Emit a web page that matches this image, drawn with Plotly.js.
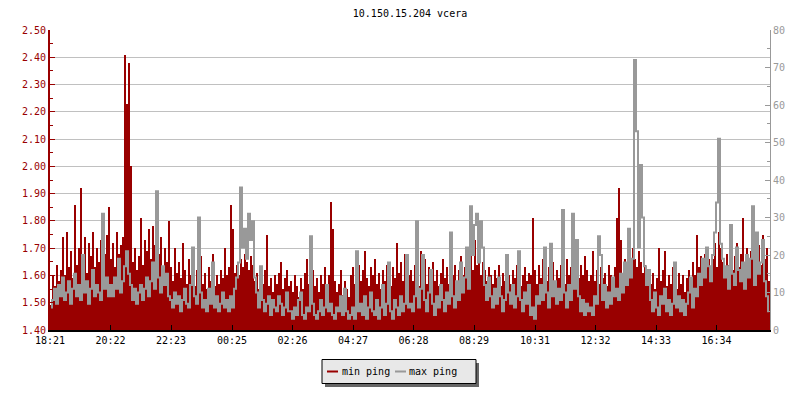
<!DOCTYPE html>
<html><head><meta charset="utf-8">
<script src="https://cdn.plot.ly/plotly-3.0.1.min.js"></script>
<style>html,body{margin:0;padding:0;background:#fff}#chart{width:800px;height:400px}</style>
</head><body><div id="chart"></div>
<script>
const chartTitle = '10.150.15.204 vcera';
const seriesNames = ['min ping', 'max ping'];
const tickLabels = ['18:21','20:22','22:23','00:25','02:26','04:27','06:28','08:29','10:31','12:32','14:33','16:34'];

// min ping (left axis), one value per 4 minutes over 24 h starting 18:21
const minPing = [
1.49,1.60,1.56,1.64,1.58,1.62,1.74,1.60,1.76,1.63,1.69,1.59,1.86,1.64,1.70,1.92,1.66,1.74,1.61,1.72,1.67,1.76,1.63,1.70,1.65,1.73,1.62,1.68,1.75,1.85,
1.66,1.72,1.63,1.76,1.68,1.71,1.74,2.41,2.23,2.38,2.00,1.65,1.70,1.62,1.67,1.81,1.64,1.73,1.69,1.77,1.66,1.78,1.71,1.63,1.68,1.74,1.61,1.70,1.65,1.80,
1.63,1.58,1.70,1.61,1.65,1.59,1.72,1.62,1.57,1.66,1.60,1.64,1.56,1.62,1.59,1.67,1.57,1.61,1.55,1.63,1.58,1.68,1.56,1.60,1.57,1.62,1.59,1.70,1.60,1.63,
1.86,1.77,1.61,1.64,1.60,1.66,1.63,1.68,1.65,1.62,1.67,1.64,1.58,1.61,1.55,1.60,1.57,1.62,1.75,1.56,1.59,1.54,1.60,1.57,1.61,1.65,1.55,1.59,1.62,1.56,
1.58,1.54,1.60,1.56,1.52,1.59,1.55,1.61,1.66,1.57,1.53,1.62,1.56,1.59,1.54,1.60,1.57,1.63,1.55,1.60,1.87,1.77,1.58,1.54,1.57,1.62,1.53,1.58,1.55,1.52,
1.60,1.63,1.57,1.61,1.64,1.58,1.62,1.69,1.59,1.56,1.63,1.60,1.66,1.57,1.61,1.55,1.62,1.58,1.64,1.60,1.56,1.63,1.59,1.72,1.61,1.65,1.58,1.68,1.62,1.60,
1.62,1.58,1.64,1.60,1.56,1.69,1.61,1.66,1.57,1.63,1.59,1.65,1.58,1.62,1.56,1.61,1.66,1.59,1.63,1.57,1.76,1.60,1.64,1.58,1.62,1.67,1.60,1.63,1.70,1.65,
1.68,1.62,1.73,1.64,1.67,1.60,1.65,1.62,1.58,1.63,1.60,1.57,1.62,1.59,1.64,1.56,1.61,1.58,1.63,1.60,1.57,1.62,1.59,1.64,1.61,1.56,1.60,1.63,1.58,1.61,
1.60,1.81,1.62,1.57,1.64,1.59,1.66,1.61,1.58,1.63,1.60,1.65,1.57,1.62,1.59,1.64,1.61,1.57,1.66,1.60,1.63,1.58,1.62,1.65,1.59,1.64,1.60,1.67,1.62,1.58,
1.60,1.69,1.58,1.62,1.57,1.63,1.59,1.61,1.56,1.64,1.60,1.58,1.63,1.81,1.92,1.73,1.61,1.66,1.62,1.68,1.64,1.70,1.66,1.63,1.69,1.65,1.61,1.64,1.60,1.58,
1.57,1.61,1.55,1.59,1.70,1.58,1.62,1.69,1.56,1.60,1.57,1.63,1.58,1.55,1.61,1.57,1.60,1.54,1.59,1.62,1.56,1.65,1.60,1.75,1.63,1.67,1.61,1.68,1.64,1.66,
1.62,1.66,1.72,1.63,1.76,1.70,1.65,1.61,1.68,1.64,1.70,1.62,1.67,1.72,1.63,1.68,1.81,1.65,1.70,1.64,1.69,1.73,1.62,1.67,1.71,1.64,1.75,1.66,1.70,1.58
];

// max ping (right axis)
const maxPing = [
6,8,11,7,12,9,14,8,10,13,7,11,15,9,12,8,20,10,13,7,11,16,9,12,10,8,31,11,14,9,
12,9,14,11,19,10,13,17,21,15,12,8,11,7,10,12,8,11,14,9,13,18,11,37,14,10,17,12,15,9,
8,6,10,7,9,5,8,11,7,6,12,22,9,7,30,10,6,8,5,11,7,18,6,9,5,7,10,6,8,5,
9,6,11,14,18,38,22,27,19,31,24,29,14,10,6,17,8,5,7,9,4,8,6,5,9,7,4,6,10,5,
5,3,6,4,8,10,4,3,6,5,25,7,4,3,5,8,4,6,12,5,7,4,3,6,5,9,4,11,5,3,
4,6,3,21,5,7,4,9,3,6,10,5,4,8,3,6,12,4,7,18,5,3,8,6,4,9,5,7,20,6,
7,5,9,29,6,11,20,8,5,10,16,7,4,9,6,12,8,5,10,7,26,9,6,13,8,18,10,14,22,11,
33,20,28,31,18,29,22,12,8,14,9,6,11,7,14,9,5,8,20,10,7,12,6,9,21,8,5,10,7,12,
4,6,3,9,7,12,8,22,10,6,23,9,13,7,11,8,32,10,6,12,8,31,11,24,9,5,8,4,7,5,
6,4,9,7,25,20,8,12,6,10,7,14,9,11,8,15,10,18,12,27,14,19,72,53,22,44,30,17,12,16,
8,5,10,6,4,9,7,11,5,8,4,7,18,6,9,5,8,4,7,10,14,6,11,9,15,12,19,14,22,17,
13,20,26,34,51,23,19,14,17,11,28,15,12,22,16,13,18,11,20,14,19,33,12,26,15,18,24,13,9,5
];

const DAY_MIN = 1440;
function toMin(s){ const p = s.split(':'); return (+p[0])*60 + (+p[1]); }
const startMin = toMin(tickLabels[0]);
const tickVals = tickLabels.map(s => (toMin(s) - startMin + DAY_MIN) % DAY_MIN);

const stepMin = DAY_MIN / minPing.length;
const xMin = minPing.map((_, i) => (i + 0.5) * stepMin);
const stepMax = DAY_MIN / maxPing.length;
const xMax = maxPing.map((_, i) => (i + 0.5) * stepMax);

const RED = '#990000', GRAY = '#999999';
const FONT = 'DejaVu Sans Mono, Liberation Mono, monospace';

const traces = [
  { type: 'bar', name: seriesNames[0], x: xMin, y: minPing, width: stepMin,
    marker: { color: RED, line: { width: 0 } }, yaxis: 'y', hoverinfo: 'skip' },
  { type: 'scatter', mode: 'lines', name: seriesNames[1], x: xMax, y: maxPing,
    line: { color: GRAY, width: 2, shape: 'hvh' }, yaxis: 'y2', hoverinfo: 'skip' }
];

// pixel -> paper helpers (plot area: x 50..770, y 30..330)
const PL = 50, PR = 770, PT = 30, PB = 330;
const px = v => (v - PL) / (PR - PL);
const py = v => (PB - v) / (PB - PT);

const legendShapes = [
  { type: 'rect', xref: 'paper', yref: 'paper', x0: px(325), x1: px(479), y0: py(363), y1: py(387),
    fillcolor: '#666666', line: { width: 0 } },
  { type: 'rect', xref: 'paper', yref: 'paper', x0: px(322), x1: px(476), y0: py(359.5), y1: py(383.5),
    fillcolor: '#e8e8e8', line: { color: '#000', width: 1 } },
  { type: 'line', xref: 'paper', yref: 'paper', x0: px(327), x1: px(338), y0: py(371.5), y1: py(371.5),
    line: { color: RED, width: 2 } },
  { type: 'line', xref: 'paper', yref: 'paper', x0: px(395), x1: px(406), y0: py(371.5), y1: py(371.5),
    line: { color: GRAY, width: 2 } }
];
const legendText = [
  { text: seriesNames[0], xref: 'paper', yref: 'paper', x: px(340), y: py(371), xanchor: 'left', yanchor: 'middle',
    showarrow: false, font: { family: FONT, size: 10, color: '#000' } },
  { text: seriesNames[1], xref: 'paper', yref: 'paper', x: px(407), y: py(371), xanchor: 'left', yanchor: 'middle',
    showarrow: false, font: { family: FONT, size: 10, color: '#000' } }
];

const layout = {
  width: 800, height: 400,
  margin: { l: 50, r: 30, t: 30, b: 70, pad: 0 },
  paper_bgcolor: '#fff', plot_bgcolor: '#fff',
  showlegend: false, bargap: 0,
  font: { family: FONT, size: 10, color: '#000' },
  title: { text: chartTitle, font: { family: FONT, size: 10, color: '#000' },
           xref: 'paper', x: 0.5, xanchor: 'center', yref: 'container', y: 1 - 13/400, yanchor: 'middle' },
  xaxis: { range: [0, DAY_MIN], tickvals: tickVals, ticktext: tickLabels,
           ticks: 'inside', ticklen: 5, tickwidth: 1, tickcolor: '#000',
           showline: true, linecolor: '#000', linewidth: 2, showgrid: false, zeroline: false,
           tickfont: { family: FONT, size: 10, color: '#000' }, fixedrange: true },
  yaxis: { range: [1.4, 2.5], tick0: 1.4, dtick: 0.1, tickformat: '.2f',
           ticks: 'inside', ticklen: 5, tickwidth: 1, tickcolor: RED,
           showline: true, linecolor: RED, linewidth: 2,
           showgrid: true, gridcolor: '#c0c0c0', gridwidth: 1, zeroline: false,
           tickfont: { family: FONT, size: 10, color: RED },
           minor: { dtick: 0.05, tick0: 1.4, ticks: 'inside', ticklen: 3, tickcolor: RED, showgrid: false },
           fixedrange: true },
  yaxis2: { overlaying: 'y', side: 'right', range: [0, 80], tick0: 0, dtick: 10,
            ticks: 'inside', ticklen: 5, tickwidth: 1, tickcolor: GRAY,
            showline: true, linecolor: GRAY, linewidth: 1, showgrid: false, zeroline: false,
            tickfont: { family: FONT, size: 10, color: GRAY },
            minor: { dtick: 5, tick0: 0, ticks: 'inside', ticklen: 3, tickcolor: GRAY, showgrid: false },
            fixedrange: true },
  shapes: legendShapes,
  annotations: legendText
};

Plotly.newPlot('chart', traces, layout, { staticPlot: true, displayModeBar: false });
</script>
</body></html>
